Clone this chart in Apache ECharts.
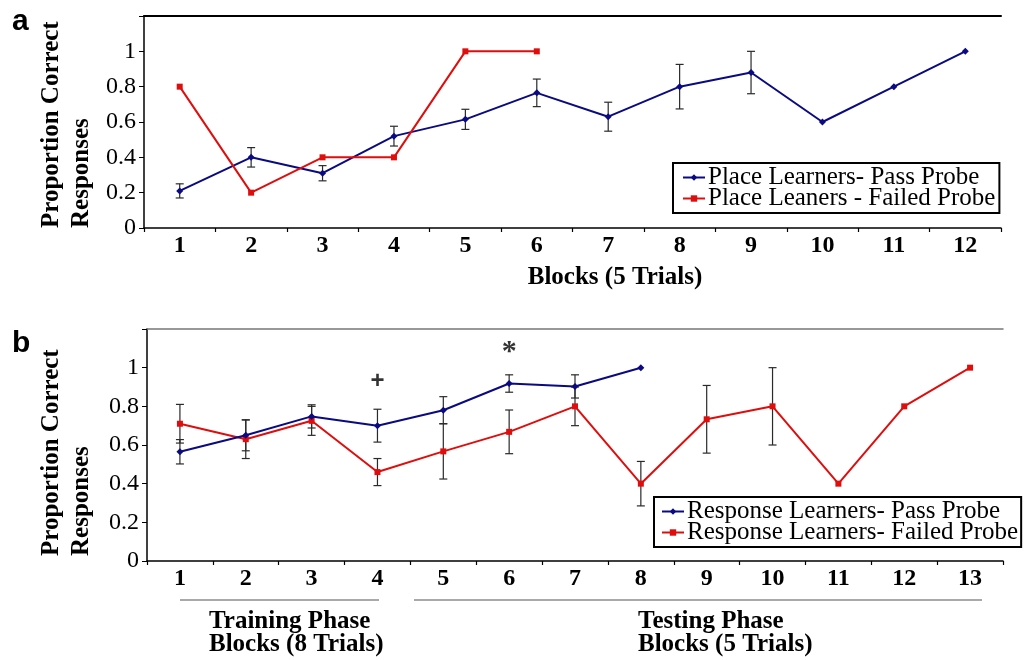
<!DOCTYPE html>
<html>
<head>
<meta charset="utf-8">
<script src="https://cdn.jsdelivr.net/npm/echarts@6/dist/echarts.min.js"></script>
<style>
  html, body { margin: 0; padding: 0; background: #fff; }
  #chart { width: 1025px; height: 660px; }
</style>
</head>
<body>
<div id="chart"></div>
<script>
// panel a - place learners
const blocksA = ['1', '2', '3', '4', '5', '6', '7', '8', '9', '10', '11', '12'];
const placePassMean = [0.21, 0.40, 0.31, 0.52, 0.615, 0.765, 0.63, 0.80, 0.88, 0.60, 0.80, 1.0];
const placePassErr = [0.04, 0.055, 0.043, 0.056, 0.057, 0.078, 0.082, 0.126, 0.12, null, null, null];
const placeFailMean = [0.8, 0.2, 0.4, 0.4, 1.0, 1.0];

// panel b - response learners
const blocksB = ['1', '2', '3', '4', '5', '6', '7', '8', '9', '10', '11', '12', '13'];
const respPassMean = [0.565, 0.65, 0.748, 0.70, 0.78, 0.918, 0.903, 1.0];
const respPassErr = [0.063, 0.08, 0.06, 0.085, 0.07, 0.045, 0.06, null];
const respFailMean = [0.71, 0.63, 0.725, 0.46, 0.567, 0.668, 0.80, 0.40, 0.733, 0.80, 0.40, 0.80, 1.0];
const respFailErr = [0.10, 0.10, 0.075, 0.07, 0.143, 0.113, 0.10, 0.115, 0.175, 0.20, null, null, null];

// significance marks above panel b
const marksB = [
  { block: '4', y: 0.93, text: '+', style: 'plus' },
  { block: '6', y: 1.11, text: '*', style: 'star' },
];

const yTicks = [0, 0.2, 0.4, 0.6, 0.8, 1];

const BLUE = '#0a0a82';
const RED = '#e00d0d';
const SERIF = '"Liberation Serif", "DejaVu Serif", serif';
const SANS = '"Liberation Sans", Arial, sans-serif';

function errData(mean, err) {
  const out = [];
  mean.forEach((m, i) => {
    if (err[i] != null) out.push([i, m - err[i], m + err[i]]);
  });
  return out;
}

function renderErr(params, api) {
  const x = api.value(0);
  const lo = api.coord([x, api.value(1)]);
  const hi = api.coord([x, api.value(2)]);
  const w = 4;
  const st = { stroke: '#2a2a2a', lineWidth: 1.2 };
  return {
    type: 'group',
    children: [
      { type: 'line', shape: { x1: hi[0], y1: hi[1], x2: lo[0], y2: lo[1] }, style: st },
      { type: 'line', shape: { x1: hi[0] - w, y1: hi[1], x2: hi[0] + w, y2: hi[1] }, style: st },
      { type: 'line', shape: { x1: lo[0] - w, y1: lo[1], x2: lo[0] + w, y2: lo[1] }, style: st },
    ],
  };
}

function bottomAxis(gridIndex, data) {
  return {
    type: 'category',
    gridIndex: gridIndex,
    data: data,
    boundaryGap: true,
    axisLine: { lineStyle: { color: '#000', width: 1.5 } },
    axisTick: { show: true, length: 4, lineStyle: { color: '#000', width: 1.2 } },
    axisLabel: { color: '#000', fontFamily: SERIF, fontWeight: 'bold', fontSize: 24, margin: 6 },
  };
}

function topAxis(gridIndex, data, color, width) {
  return {
    type: 'category',
    gridIndex: gridIndex,
    position: 'top',
    data: data,
    axisLine: { lineStyle: { color: color, width: width } },
    axisTick: { show: false },
    axisLabel: { show: false },
  };
}

function leftAxis(gridIndex) {
  return {
    type: 'value',
    gridIndex: gridIndex,
    min: 0,
    max: 1.2,
    interval: 0.2,
    axisLine: { show: true, lineStyle: { color: '#000', width: 1.5 } },
    axisTick: { show: true, length: 5, lineStyle: { color: '#000', width: 1 } },
    splitLine: { show: false },
    axisLabel: {
      color: '#000',
      fontFamily: SERIF,
      fontSize: 24,
      margin: 8,
      formatter: v => {
        const hit = yTicks.find(t => Math.abs(t - v) < 1e-6);
        return hit === undefined ? '' : String(hit);
      },
    },
  };
}

function legendBox(names, left, top, padding) {
  return {
    data: names,
    orient: 'vertical',
    left: left,
    top: top,
    padding: padding,
    itemGap: -4,
    itemWidth: 22,
    itemHeight: 8,
    borderColor: '#000',
    borderWidth: 2,
    borderRadius: 0,
    backgroundColor: '#fff',
    textStyle: { color: '#000', fontFamily: SERIF, fontSize: 25, padding: [0, 0, 0, -2] },
  };
}

const boldTitle = { fill: '#000', font: 'bold 25px ' + SERIF };

function title(text, x, y, align, rotate) {
  return {
    type: 'text', x: x, y: y, rotation: rotate ? Math.PI / 2 : 0,
    style: Object.assign({ text: text, textAlign: align, textVerticalAlign: 'middle' }, boldTitle),
  };
}

const chart = echarts.init(document.getElementById('chart'));
const option = {
  animation: false,
  backgroundColor: '#fff',
  grid: [
    { left: 144, top: 16, width: 857, height: 212 },
    { left: 147, top: 329, width: 856, height: 232 },
  ],
  xAxis: [
    bottomAxis(0, blocksA),
    topAxis(0, blocksA, '#000', 2),
    bottomAxis(1, blocksB),
    topAxis(1, blocksB, '#777', 1.5),
  ],
  yAxis: [leftAxis(0), leftAxis(1)],
  legend: [
    legendBox(['Place Learners- Pass Probe', 'Place Leaners - Failed Probe'], 673, 163, [2, 4, 2, 9]),
    legendBox(['Response Learners- Pass Probe', 'Response Learners- Failed Probe'], 654, 497, [2, 3, 2, 7]),
  ],
  series: [
    {
      type: 'custom', xAxisIndex: 0, yAxisIndex: 0, z: 2, silent: true,
      renderItem: renderErr, encode: { x: 0, y: [1, 2] },
      data: errData(placePassMean, placePassErr),
    },
    {
      name: 'Place Learners- Pass Probe', type: 'line', xAxisIndex: 0, yAxisIndex: 0, z: 3,
      data: placePassMean, symbol: 'diamond', symbolSize: 7,
      lineStyle: { color: BLUE, width: 2 }, itemStyle: { color: BLUE },
    },
    {
      name: 'Place Leaners - Failed Probe', type: 'line', xAxisIndex: 0, yAxisIndex: 0, z: 3,
      data: placeFailMean, symbol: 'rect', symbolSize: 6,
      lineStyle: { color: RED, width: 2 }, itemStyle: { color: RED },
    },
    {
      type: 'custom', xAxisIndex: 2, yAxisIndex: 1, z: 2, silent: true,
      renderItem: renderErr, encode: { x: 0, y: [1, 2] },
      data: errData(respFailMean, respFailErr),
    },
    {
      type: 'custom', xAxisIndex: 2, yAxisIndex: 1, z: 2, silent: true,
      renderItem: renderErr, encode: { x: 0, y: [1, 2] },
      data: errData(respPassMean, respPassErr),
    },
    {
      name: 'Response Learners- Pass Probe', type: 'line', xAxisIndex: 2, yAxisIndex: 1, z: 4,
      data: respPassMean, symbol: 'diamond', symbolSize: 7,
      lineStyle: { color: BLUE, width: 2 }, itemStyle: { color: BLUE },
    },
    {
      name: 'Response Learners- Failed Probe', type: 'line', xAxisIndex: 2, yAxisIndex: 1, z: 3,
      data: respFailMean, symbol: 'rect', symbolSize: 6,
      lineStyle: { color: RED, width: 2 }, itemStyle: { color: RED },
    },
    {
      type: 'scatter', xAxisIndex: 2, yAxisIndex: 1, z: 5, silent: true,
      symbolSize: 1, itemStyle: { color: 'transparent' },
      data: marksB.map(m => [m.block, m.y]),
      label: {
        show: true, position: 'inside',
        formatter: p => '{' + marksB[p.dataIndex].style + '|' + marksB[p.dataIndex].text + '}',
        rich: {
          plus: { color: '#000', fontFamily: SANS, fontWeight: 'bold', fontSize: 24 },
          star: { color: '#000', fontFamily: SERIF, fontWeight: 'bold', fontSize: 30, padding: [12, 0, 0, 0] },
        },
      },
    },
  ],
  graphic: [
    { type: 'text', x: 12, y: 37, style: { text: 'a', fill: '#000', font: 'bold 30px ' + SANS, textVerticalAlign: 'bottom' } },
    { type: 'text', x: 12, y: 359, style: { text: 'b', fill: '#000', font: 'bold 30px ' + SANS, textVerticalAlign: 'bottom' } },
    // y titles
    title('Proportion Correct', 52, 228, 'left', true),
    title('Responses', 82, 228, 'left', true),
    title('Proportion Correct', 52, 556, 'left', true),
    title('Responses', 82, 556, 'left', true),
    // x title, panel a
    title('Blocks (5 Trials)', 615, 278, 'center'),
    // phase brackets, panel b
    { type: 'line', shape: { x1: 180, y1: 600, x2: 379, y2: 600 }, style: { stroke: '#555', lineWidth: 1.2 } },
    { type: 'line', shape: { x1: 414, y1: 600, x2: 982, y2: 600 }, style: { stroke: '#555', lineWidth: 1.2 } },
    title('Training Phase', 209, 622, 'left'),
    title('Blocks (8 Trials)', 209, 645, 'left'),
    title('Testing Phase', 638, 622, 'left'),
    title('Blocks (5 Trials)', 638, 645, 'left'),
  ],
};
chart.setOption(option);
</script>
</body>
</html>
